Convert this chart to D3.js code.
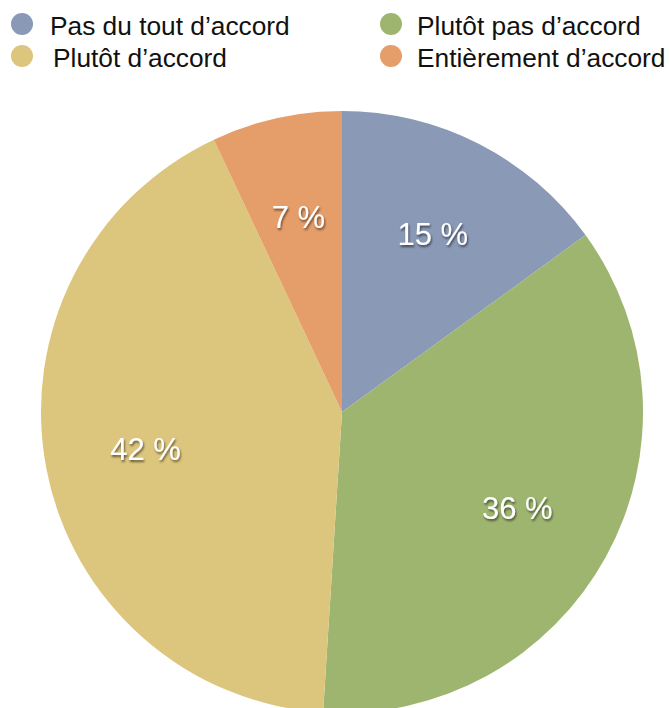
<!DOCTYPE html>
<html>
<head>
<meta charset="utf-8">
<script src="https://cdn.jsdelivr.net/npm/d3@7"></script>
<style>
  html, body { margin: 0; padding: 0; background: #fff; }
  svg { display: block; }
</style>
</head>
<body>
<svg id="chart" width="670" height="708"></svg>
<script>
// Survey answers, share of respondents (%)
const categories = ["Pas du tout d’accord", "Plutôt pas d’accord", "Plutôt d’accord", "Entièrement d’accord"];
const values = [15, 36, 42, 7];
const colors = ["#8999b6", "#9eb570", "#dcc57c", "#e59d69"];
const labels = values.map(v => v + " %");

const width = 670, height = 708;
const cx = 342, cy = 412, radius = 301;

const svg = d3.select("#chart");
const font = "'Liberation Sans', Arial, Helvetica, sans-serif";

// Soft drop shadow behind the percentage labels
const defs = svg.append("defs");
const f = defs.append("filter").attr("id", "shadow")
  .attr("x", "-20%").attr("y", "-20%").attr("width", "140%").attr("height", "140%");
f.append("feDropShadow").attr("dx", 1).attr("dy", 2).attr("stdDeviation", 1)
  .attr("flood-color", "#000").attr("flood-opacity", 0.55);

const color = d3.scaleOrdinal().domain(categories).range(colors);

const pie = d3.pie().sort(null).value(d => d.value);
const data = categories.map((c, i) => ({ name: c, value: values[i], label: labels[i] }));
const arcs = pie(data);

const arc = d3.arc().innerRadius(0).outerRadius(radius);
const labelArc = d3.arc().innerRadius(200).outerRadius(200);

const g = svg.append("g").attr("transform", `translate(${cx},${cy})`);

g.selectAll("path.slice")
  .data(arcs)
  .join("path")
  .attr("class", "slice")
  .attr("d", arc)
  .attr("fill", d => color(d.data.name));

g.selectAll("text.pct")
  .data(arcs)
  .join("text")
  .attr("class", "pct")
  .attr("transform", d => `translate(${labelArc.centroid(d)})`)
  .attr("text-anchor", "middle")
  .attr("dy", "0.35em")
  .attr("font-family", font)
  .attr("font-size", 31)
  .attr("fill", "#fff")
  .attr("filter", "url(#shadow)")
  .text(d => d.data.label);

// Legend: two columns, two rows
const legendPos = [
  { x: 22, y: 24, tx: 50 },
  { x: 391, y: 24, tx: 417 },
  { x: 22, y: 56, tx: 53 },
  { x: 391, y: 56, tx: 417 }
];
const legend = svg.append("g");
const items = legend.selectAll("g.item")
  .data(categories)
  .join("g")
  .attr("class", "item");
items.append("circle")
  .attr("cx", (d, i) => legendPos[i].x)
  .attr("cy", (d, i) => legendPos[i].y)
  .attr("r", 11)
  .attr("fill", d => color(d));
items.append("text")
  .attr("x", (d, i) => legendPos[i].tx)
  .attr("y", (d, i) => legendPos[i].y + 11)
  .attr("font-family", font)
  .attr("font-size", 26.3)
  .attr("fill", "#111")
  .text(d => d);
</script>
</body>
</html>
